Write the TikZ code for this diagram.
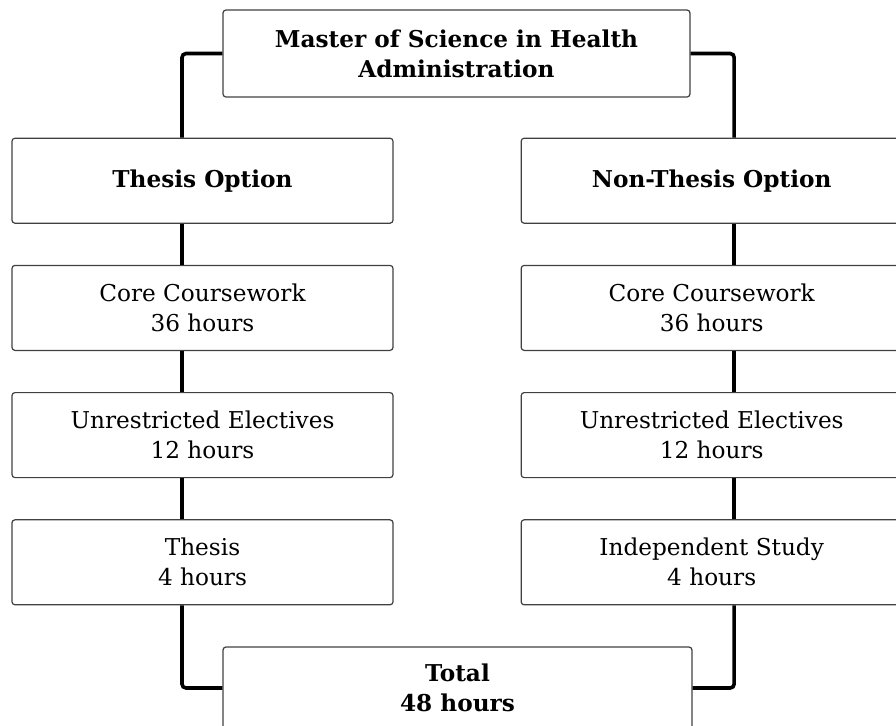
\documentclass[tikz,border=0pt]{standalone}
\usepackage{fontspec}
\setmainfont{DejaVu Serif}
\usetikzlibrary{positioning}

\tikzset{
  box/.style={draw=black!75, line width=0.6pt, rounded corners=1.5pt, align=center,
    minimum width=190.5pt, minimum height=42.5pt, inner sep=0pt,
    font=\fontsize{11.6}{15}\selectfont},
  headbox/.style={box, font=\fontsize{11.6}{15}\selectfont\bfseries},
  link/.style={line width=1.8pt, rounded corners=2pt}
}

\begin{document}
\begin{tikzpicture}
  \useasboundingbox (-228.25pt,-335.75pt) rectangle (219.75pt,26.75pt);
  \clip (-228.25pt,-335.75pt) rectangle (219.75pt,26.75pt);

  \node[headbox, minimum width=233.5pt, minimum height=43.5pt] (master) at (0,0) {Master of Science in Health\\Administration};
  \node[headbox, below = 20pt of master, xshift=-127pt] (thopt) {Thesis Option};
  \node[headbox, right = 63.5pt of thopt] (nthopt) {Non-Thesis Option};

  \node[box, below = 20.5pt of thopt] (lcore) {Core Coursework\\36 hours};
  \node[box, below = 20.5pt of nthopt] (rcore) {Core Coursework\\36 hours};
  \node[box, below = 20.5pt of lcore] (lelect) {Unrestricted Electives\\12 hours};
  \node[box, below = 20.5pt of rcore] (relect) {Unrestricted Electives\\12 hours};
  \node[box, below = 20.5pt of lelect] (thesis) {Thesis\\4 hours};
  \node[box, below = 20.5pt of relect] (study) {Independent Study\\4 hours};

  \node[headbox, minimum width=234.5pt, minimum height=41pt, below = 20.5pt of thesis, xshift=127.5pt] (total) {Total\\48 hours};

  \coordinate (lcol) at ([xshift=-10.25pt]thopt.north);
  \coordinate (rcol) at ([xshift=11.25pt]nthopt.north);

  \draw[link] (master.west) -| (lcol);
  \draw[link] (master.east) -| (rcol);

  \draw[link] (thopt.south -| lcol) -- (lcore.north -| lcol);
  \draw[link] (lcore.south -| lcol) -- (lelect.north -| lcol);
  \draw[link] (lelect.south -| lcol) -- (thesis.north -| lcol);
  \draw[link] (nthopt.south -| rcol) -- (rcore.north -| rcol);
  \draw[link] (rcore.south -| rcol) -- (relect.north -| rcol);
  \draw[link] (relect.south -| rcol) -- (study.north -| rcol);

  \draw[link] (thesis.south -| lcol) |- (total.west);
  \draw[link] (study.south -| rcol) |- (total.east);

\end{tikzpicture}
\end{document}
